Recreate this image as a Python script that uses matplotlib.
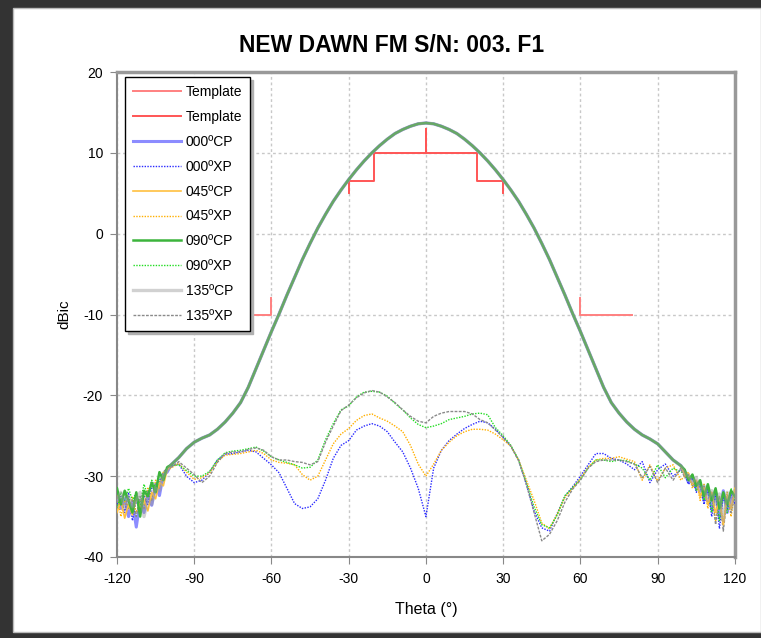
import numpy as np
import matplotlib
matplotlib.use("Agg")
import matplotlib.pyplot as plt
from matplotlib.patches import Rectangle

plt.rcParams['font.family'] = ['Liberation Sans', 'DejaVu Sans']
plt.rcParams['axes.unicode_minus'] = False

# angle grid: fine steps in the noisy tails, 3 deg in between
theta = np.r_[np.arange(-120, -100, 1.5), np.arange(-99, 100, 3), np.arange(100.5, 120.1, 1.5)]

# copolar main beam, -99..99 deg (same for all four cuts)
cp_beam = [-28.6, -27.7, -26.6, -25.8, -25.3, -24.9, -24.2, -23.3, -22.2, -20.9,
           -19.0, -16.7, -14.4, -12.1, -9.9, -7.6, -5.4, -3.2, -1.2, 0.7,
           2.4, 4.0, 5.4, 6.7, 7.9, 9.0, 10.0, 10.9, 11.7, 12.4,
           12.9, 13.3, 13.6, 13.7, 13.6, 13.3, 12.9, 12.4, 11.7, 10.9,
           10.0, 9.0, 7.9, 6.7, 5.4, 4.0, 2.4, 0.7, -1.2, -3.2,
           -5.4, -7.6, -9.9, -12.1, -14.4, -16.7, -19.0, -20.9, -22.2, -23.3,
           -24.2, -24.9, -25.4, -26.0, -27.0, -28.0, -28.7]

# tails -120..-100.5 and 100.5..120
cp_000_lo = [-32.5, -34.0, -32.8, -35.0, -33.2, -36.3, -33.0, -34.5, -32.2, -33.6, -31.0, -32.4, -29.8, -29.5]
cp_045_lo = [-34.5, -33.0, -35.2, -33.5, -34.8, -32.6, -34.0, -33.0, -34.3, -32.0, -32.8, -30.8, -31.2, -29.2]
cp_090_lo = [-31.5, -33.5, -31.8, -33.0, -34.5, -32.0, -35.0, -31.8, -32.5, -30.8, -32.0, -29.5, -30.5, -28.9]
cp_135_lo = [-33.0, -32.0, -34.0, -32.5, -33.8, -33.0, -32.0, -35.0, -32.8, -33.5, -31.5, -31.8, -30.0, -29.3]
cp_000_hi = [-29.5, -30.8, -30.0, -31.5, -31.0, -33.0, -31.5, -34.0, -32.0, -35.0, -31.8, -34.5, -32.5, -33.0]
cp_045_hi = [-29.8, -30.2, -31.0, -30.5, -32.5, -31.5, -33.5, -32.0, -34.5, -33.0, -36.0, -32.5, -34.0, -31.5]
cp_090_hi = [-29.2, -30.5, -29.8, -31.2, -30.5, -32.5, -31.0, -33.0, -31.5, -34.0, -32.0, -33.5, -31.8, -32.5]
cp_135_hi = [-29.6, -30.0, -30.8, -30.2, -31.8, -31.2, -33.0, -31.8, -33.5, -32.2, -35.5, -32.0, -33.8, -31.8]

xp_000_lo = [-33.5, -32.5, -34.5, -32.0, -35.5, -33.0, -34.0, -32.5, -33.5, -31.5, -32.0, -30.5, -30.0, -29.0]
xp_045_lo = [-32.0, -35.0, -33.0, -34.0, -32.5, -34.5, -33.0, -33.5, -31.5, -33.0, -30.5, -31.5, -29.5, -29.2]
xp_090_lo = [-34.0, -32.0, -33.0, -31.5, -33.0, -32.0, -33.5, -31.0, -32.5, -30.5, -31.5, -29.8, -30.0, -28.8]
xp_135_lo = [-32.5, -33.5, -32.0, -34.0, -33.0, -35.0, -32.5, -34.0, -31.8, -33.0, -31.0, -30.8, -29.5, -29.0]
xp_000_hi = [-29.8, -31.0, -30.2, -32.0, -31.0, -33.5, -31.5, -35.0, -32.0, -36.5, -32.5, -34.0, -32.0, -33.5]
xp_045_hi = [-30.0, -29.5, -31.5, -30.5, -33.0, -31.0, -34.0, -32.0, -35.5, -32.5, -36.0, -32.0, -35.0, -32.0]
xp_090_hi = [-29.5, -30.5, -30.0, -31.8, -30.8, -33.0, -31.2, -34.5, -31.5, -35.5, -32.0, -34.5, -31.5, -33.0]
xp_135_hi = [-30.2, -29.8, -31.2, -30.5, -32.5, -31.2, -33.5, -32.0, -36.0, -32.5, -36.8, -32.5, -34.5, -32.2]

# crosspolar, -99..99 deg
xp_000_mid = [-28.8, -28.5, -30.0, -30.8, -30.5, -29.5, -28.0, -27.3, -27.2, -27.0,
              -26.8, -27.0, -27.8, -28.6, -29.6, -31.5, -33.4, -34.0, -33.8, -32.8,
              -30.5, -27.8, -26.2, -25.6, -24.3, -23.8, -23.5, -23.8, -24.5, -25.8,
              -27.0, -29.0, -31.5, -35.0, -29.0, -26.8, -25.6, -24.8, -24.1, -23.6,
              -23.2, -23.4, -24.2, -25.2, -26.3, -28.0, -31.0, -34.3, -36.4, -36.8,
              -34.6, -32.5, -31.3, -30.0, -28.6, -27.2, -27.2, -27.8, -28.0, -28.5,
              -29.2, -28.2, -30.8, -29.2, -28.5, -30.0, -29.2]
xp_045_mid = [-29.0, -28.4, -29.5, -30.4, -30.2, -29.6, -28.2, -27.4, -27.3, -27.2,
              -27.0, -26.8, -27.2, -28.0, -28.3, -28.4, -28.6, -29.8, -30.5, -30.0,
              -28.0, -26.0, -24.8, -24.1, -23.1, -22.5, -22.3, -22.8, -23.2, -23.8,
              -24.5, -26.2, -28.5, -30.0, -28.5, -26.8, -25.8, -25.0, -24.5, -24.2,
              -24.2, -24.3, -24.8, -25.5, -26.3, -28.0, -30.5, -33.0, -35.8, -36.5,
              -34.7, -32.6, -31.5, -30.3, -28.9, -28.0, -27.8, -27.8, -27.6, -27.9,
              -28.2, -30.5, -28.6, -30.6, -29.0, -28.6, -30.5]
xp_090_mid = [-28.7, -28.6, -29.3, -30.0, -30.0, -29.4, -28.0, -27.1, -26.9, -26.8,
              -26.6, -26.4, -26.9, -27.6, -28.0, -28.3, -28.6, -29.0, -28.9, -28.0,
              -25.5, -23.5, -21.8, -21.3, -20.2, -19.6, -19.5, -19.6, -20.1, -21.0,
              -21.8, -22.8, -23.6, -24.0, -23.8, -23.5, -23.0, -22.8, -22.6, -22.3,
              -22.2, -22.4, -24.0, -25.0, -26.2, -28.0, -30.8, -33.8, -36.0, -36.4,
              -34.8, -32.4, -31.4, -30.4, -29.0, -28.0, -28.0, -28.2, -28.0, -28.1,
              -28.5, -29.0, -30.5, -28.6, -30.2, -29.0, -29.5]
xp_135_mid = [-28.9, -28.2, -29.0, -29.8, -30.8, -30.0, -28.3, -27.2, -27.0, -27.0,
              -26.7, -26.5, -26.8, -27.6, -28.0, -28.0, -28.2, -28.3, -28.6, -28.2,
              -25.8, -23.8, -21.9, -21.2, -20.3, -19.7, -19.4, -19.6, -20.2, -20.9,
              -21.8, -22.6, -23.2, -23.4, -22.6, -22.2, -22.0, -22.0, -22.0, -22.3,
              -23.0, -23.4, -24.3, -25.2, -26.3, -28.1, -31.0, -34.5, -38.0, -37.2,
              -35.5, -33.2, -31.6, -30.5, -29.0, -28.2, -28.0, -28.0, -28.0, -28.2,
              -28.5, -30.2, -28.8, -30.8, -29.0, -30.5, -29.0]

# gain templates
tmpl_side_theta = [-80, -60, -60, np.nan, 60, 60, 80]
tmpl_side_db = [-10, -10, -8, np.nan, -8, -10, -10]
tmpl_main_theta = [-30, -30, -20, -20, 0, 0, 0, 20, 20, 30, 30]
tmpl_main_db = [5, 6.5, 6.5, 10, 10, 13, 10, 10, 6.5, 6.5, 5]

series = [
    ('000ºCP', cp_000_lo + cp_beam + cp_000_hi, dict(color='#8c8cff', lw=2.2, ls='-', zorder=3)),
    ('000ºXP', xp_000_lo + xp_000_mid + xp_000_hi, dict(color='#2a2aff', lw=1.0, ls=(0, (1, 1)), zorder=4)),
    ('045ºCP', cp_045_lo + cp_beam + cp_045_hi, dict(color='#ffc040', lw=1.2, ls='-', zorder=5)),
    ('045ºXP', xp_045_lo + xp_045_mid + xp_045_hi, dict(color='#ffb000', lw=1.0, ls=(0, (1, 1)), zorder=4)),
    ('090ºCP', cp_090_lo + cp_beam + cp_090_hi, dict(color='#3cb43c', lw=1.8, ls='-', zorder=6)),
    ('090ºXP', xp_090_lo + xp_090_mid + xp_090_hi, dict(color='#22dd22', lw=1.0, ls=(0, (1, 1)), zorder=4)),
    ('135ºCP', cp_135_lo + cp_beam + cp_135_hi, dict(color='#9a9a9a', lw=2.4, ls='-', alpha=0.45, zorder=7)),
    ('135ºXP', xp_135_lo + xp_135_mid + xp_135_hi, dict(color='#8a8a8a', lw=1.0, ls=(0, (2, 1)), zorder=4)),
]

fig = plt.figure(figsize=(7.61, 6.38), dpi=100, facecolor='#333333')
# white chart area inside the dark frame
fig.patches.append(Rectangle((0.017, 0.0094), 0.983, 0.978, transform=fig.transFigure,
                             facecolor='white', edgecolor='#bbbbbb', lw=1, zorder=-10))

ax = fig.add_axes([0.1537, 0.127, 0.812, 0.760])
ax.set_zorder(5)
ax.set_facecolor('white')

ax.plot(tmpl_side_theta, tmpl_side_db, color='#ff8080', lw=1.4, label='Template', zorder=2)
ax.plot(tmpl_main_theta, tmpl_main_db, color='#ff5555', lw=1.4, label='Template', zorder=2)
for name, vals, st in series:
    ax.plot(theta, vals, label=name, **st)

ax.set_xlim(-120, 120)
ax.set_ylim(-40, 20)
ax.set_xticks(np.arange(-120, 121, 30))
ax.set_yticks(np.arange(-40, 21, 10))
ax.grid(True, color='#c8c8c8', ls=(0, (2, 2)), lw=1)
ax.set_axisbelow(True)
ax.tick_params(direction='out', length=5, color='#888888', labelsize=10)
ax.tick_params(axis='x', pad=6)
ax.tick_params(axis='y', pad=5)

for s in ['left', 'bottom']:
    ax.spines[s].set_color('#888888')
    ax.spines[s].set_linewidth(1.5)
for s in ['top', 'right']:
    ax.spines[s].set_color('#999999')
    ax.spines[s].set_linewidth(2.5)

ax.set_xlabel('Theta (°)', fontsize=11.5, labelpad=11)
ax.set_ylabel('dBic', fontsize=11, labelpad=8)
fig.text(0.515, 0.929, 'NEW DAWN FM S/N: 003. F1', ha='center', va='center',
         fontsize=16.5, fontweight='bold')

leg = ax.legend(loc='upper left', bbox_to_anchor=(0.013, 0.99), borderaxespad=0,
                fontsize=10, labelspacing=0.78, handlelength=3.4, handletextpad=0.36,
                fancybox=False, shadow={'color': '#b0b0b0', 'alpha': 1}, framealpha=1,
                borderpad=0.6)
leg.get_frame().set_edgecolor('black')
leg.get_frame().set_linewidth(1.0)
leg.set_zorder(10)

fig.savefig('out.png', dpi=100, facecolor=fig.get_facecolor())
